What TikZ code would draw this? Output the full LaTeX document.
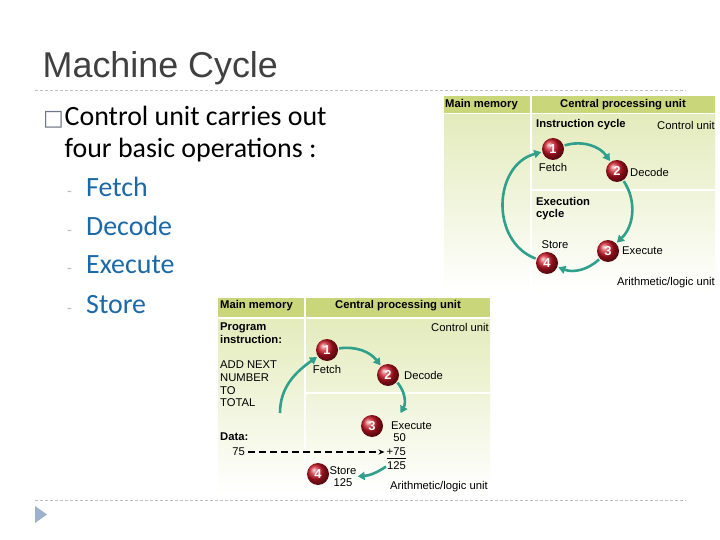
\documentclass[tikz,border=0pt]{standalone}
\usepackage{fontspec}
\setmainfont{Carlito}
\newfontfamily\figfont{Liberation Sans}
\newfontfamily\symfont{DejaVu Sans}
\usetikzlibrary{arrows.meta}
\definecolor{titlegray}{RGB}{64,64,64}
\definecolor{itemblue}{RGB}{28,105,168}
\definecolor{rulegray}{RGB}{190,190,190}
\definecolor{boxgray}{RGB}{110,118,136}
\definecolor{headgreen}{RGB}{202,214,122}
\definecolor{bodygreen}{RGB}{228,235,188}
\definecolor{cycleteal}{RGB}{46,160,140}
\definecolor{ballred}{RGB}{200,20,35}
\definecolor{navblue}{RGB}{157,176,204}

\begin{document}
\begin{tikzpicture}[x=1bp, y=-1bp,
    lbl/.style={inner sep=0pt, align=left, font=\figfont\fontsize{11.3}{12.6}\selectfont},
    hdr/.style={inner sep=0pt, align=left, font=\figfont\bfseries\fontsize{11.3}{12.6}\selectfont},
    numball/.style={circle, minimum size=22bp, inner sep=0pt, ball color=ballred, text=white, font=\figfont\bfseries\fontsize{13}{13}\selectfont},
    cyc/.style={draw=cycleteal, line width=2.6bp, -{Triangle[length=7bp,width=8bp]}, shorten >=1bp, shorten <=1bp},
    dashrule/.style={draw=rulegray, line width=0.75bp, dash pattern=on 3bp off 2bp},
    bodytext/.style={anchor=base west, inner sep=0pt, font=\fontsize{28}{33}\selectfont},
    item/.style={bodytext, text=itemblue},
    dashmark/.style={anchor=base west, inner sep=0pt, text=rulegray, font=\fontsize{16}{16}\selectfont},
  ]
  \fill[white] (0,0) rectangle (720,540);
  \useasboundingbox (0,0) rectangle (720,540);

  % slide frame
  \draw[dashrule] (35,90) -- (686,90);
  \draw[dashrule] (35,500) -- (686,500);
  \fill[navblue] (35,506) -- (47,514.5) -- (35,523) -- cycle;

  \node[anchor=base west, inner sep=0pt, text=titlegray, font=\figfont\fontsize{36}{40}\selectfont] (title) at (42.5,78) {Machine Cycle};

  \node[anchor=base east, inner sep=0pt, text=boxgray, font=\symfont\fontsize{22}{22}\selectfont] (bullet) at (64,126) {□};
  \node[bodytext] (line1) at (64.5,126) {Control unit carries out};
  \node[bodytext] (line2) at (64.5,158) {four basic operations :};
  \node[dashmark] (dash1) at (67,197) {-};
  \node[item] (fetch) at (86,197) {Fetch};
  \node[dashmark] (dash2) at (67,236) {-};
  \node[item] (decode) at (86,236) {Decode};
  \node[dashmark] (dash3) at (67,274) {-};
  \node[item] (execute) at (86,274) {Execute};
  \node[dashmark] (dash4) at (67,313) {-};
  \node[item] (store) at (86,313) {Store};

  % upper figure: the cycle
  \fill[headgreen] (444,96) rectangle (715,113);
  \shade[top color=bodygreen, middle color=bodygreen!85!white, bottom color=white] (444,115) rectangle (715,292);
  \draw[white, line width=2bp] (530.5,96) -- (530.5,292);
  \draw[white, line width=2bp] (530.5,190) -- (715,190);

  \node[hdr, anchor=west] (tmem) at (445,105) {Main memory};
  \node[hdr] (tcpu) at (623,105) {Central processing unit};
  \node[hdr, anchor=west] (tinstr) at (536,125) {Instruction cycle};
  \node[lbl, anchor=east] (tcu) at (715,125) {Control unit};
  \node[hdr, anchor=north west] (texec) at (536,197) {Execution\\cycle};
  \node[lbl, anchor=east] (talu) at (715,283) {Arithmetic/logic unit};

  \node[numball] (t1) at (553,149) {1};
  \node[numball] (t2) at (617,171) {2};
  \node[numball] (t3) at (608,251) {3};
  \node[numball] (t4) at (547,263) {4};
  \node[lbl] (tfetch) at (553,167) {Fetch};
  \node[lbl, anchor=west] (tdecode) at (630,172) {Decode};
  \node[lbl, anchor=west] (texecute) at (622,251) {Execute};
  \node[lbl] (tstore) at (555,245) {Store};

  \draw[cyc] (t1) to[bend left=36] (t2);
  \draw[cyc] (t2) to[bend left=40] (t3);
  \draw[cyc] (t3) to[bend left=32] (t4);
  \draw[cyc] (t4) to[bend left=72, looseness=1.2] (t1);

  % lower figure: adding a number
  \fill[headgreen] (218,298) rectangle (490,317);
  \shade[top color=bodygreen, middle color=bodygreen!85!white, bottom color=white] (218,319) rectangle (490,494);
  \draw[white, line width=2bp] (305,298) -- (305,494);
  \draw[white, line width=2bp] (305,393) -- (490,393);

  \node[hdr, anchor=west] (bmem) at (220,305.5) {Main memory};
  \node[hdr] (bcpu) at (398,305.5) {Central processing unit};
  \node[hdr, anchor=north west] (bprog) at (220,323) {Program\\instruction:};
  \node[lbl, anchor=north west] (badd) at (220,361) {ADD NEXT\\NUMBER\\TO\\TOTAL};
  \node[lbl, anchor=east] (bcu) at (489,327) {Control unit};
  \node[hdr, anchor=west] (bdata) at (220,437) {Data:};
  \node[lbl, anchor=east] (b75) at (245,452) {75};
  \node[lbl, anchor=east] (balu) at (488,487) {Arithmetic/logic unit};

  \node[numball] (b1) at (327,350) {1};
  \node[numball] (b2) at (388,375) {2};
  \node[numball] (b3) at (372,426) {3};
  \node[numball] (b4) at (318,474) {4};
  \node[lbl] (bfetch) at (327,369) {Fetch};
  \node[lbl, anchor=west] (bdecode) at (404,375) {Decode};
  \node[lbl, anchor=west] (bexecute) at (391,426) {Execute};
  \node[lbl, anchor=east] (bn50) at (406,437.5) {50};
  \node[lbl, anchor=east] (bn75) at (406,452) {+75};
  \node[lbl, anchor=east] (bsum) at (406,466) {125};
  \node[lbl, align=center] (bstore) at (343,476.5) {Store\\125};
  \draw[line width=0.8bp] ([yshift=-2.5bp]bn75.south west) -- ([yshift=-2.5bp]bn75.south east);

  \coordinate (bstart) at (280,414);
  \coordinate (bexecin) at (400,414);
  \draw[cyc] (bstart) to[out=90, in=215] (b1);
  \draw[cyc] (b1) to[bend left=30] (b2);
  \draw[cyc] (b2) to[bend left=35] (bexecin);
  \draw[cyc] (bsum.west) to[bend left=15] (bstore.east);
  \draw[line width=1.6bp, dash pattern=on 7bp off 4bp, -{Stealth[length=6bp,width=5bp]}, shorten <=3bp, shorten >=2bp] (b75.east) -- (bn75.west);
\end{tikzpicture}
\end{document}
